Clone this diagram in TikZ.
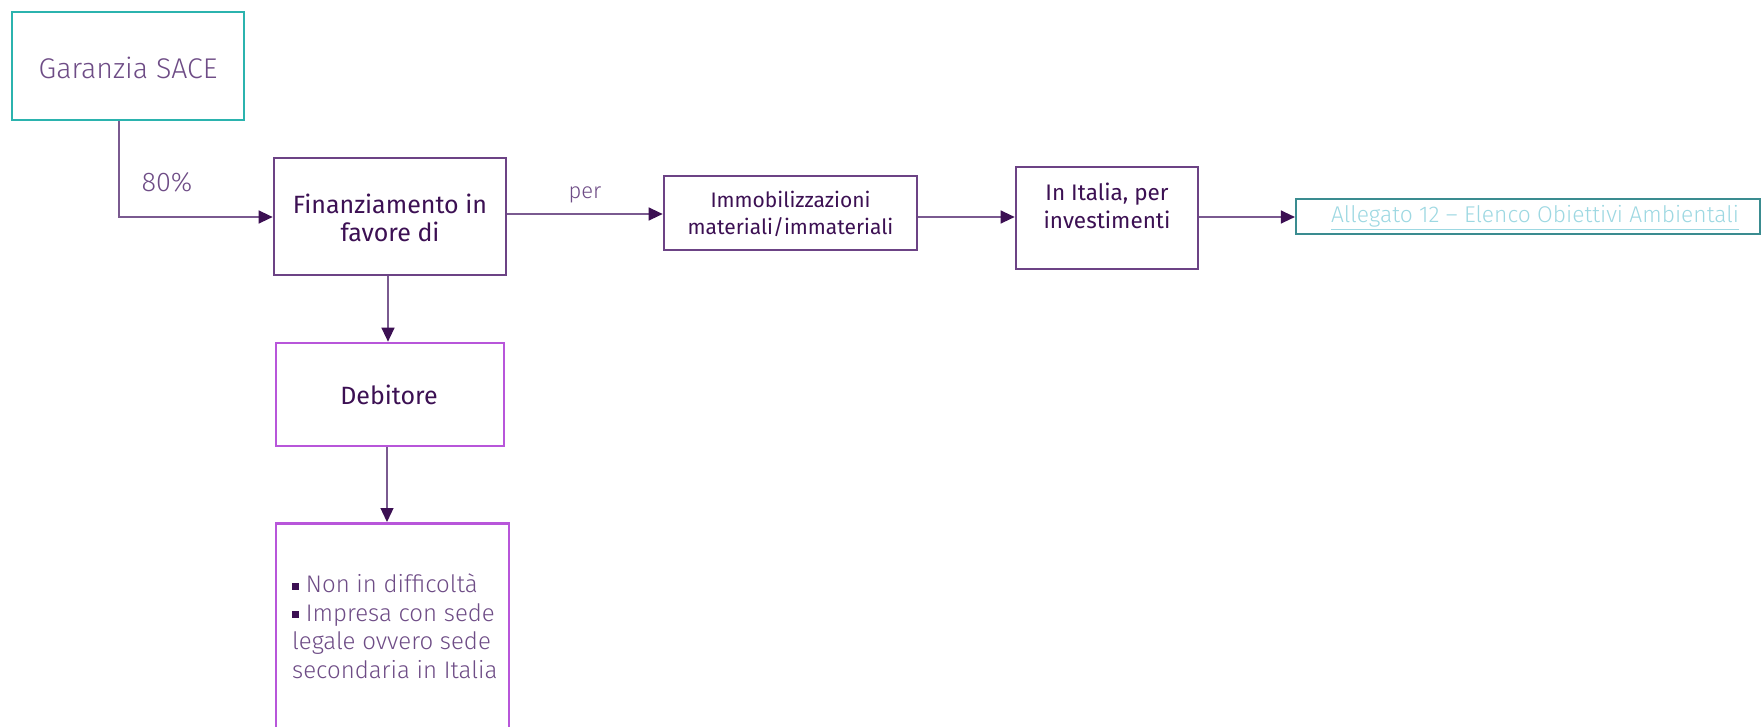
\documentclass[tikz,border=0pt]{standalone}
\usepackage{fontspec}
\setmainfont{Fira Sans}
\newfontfamily\lightf{Fira Sans}[UprightFont=* Light]
\usetikzlibrary{arrows.meta}
\definecolor{teal1}{HTML}{2BB3AE}
\definecolor{teal2}{HTML}{3A8C90}
\definecolor{pborder}{HTML}{6C4385}
\definecolor{vborder}{HTML}{B856DA}
\definecolor{darktxt}{HTML}{3C1053}
\definecolor{lighttxt}{HTML}{6E4C86}
\definecolor{linec}{HTML}{7A5A90}
\definecolor{linkc}{HTML}{9DD8E2}
\tikzset{
  x=1pt, y=-1pt,
  box/.style={draw, line width=2.7pt, inner sep=0pt, rectangle},
  tealbox/.style={box, draw=teal1},
  purbox/.style={box, draw=pborder},
  viobox/.style={box, draw=vborder},
  linkbox/.style={box, draw=teal2, line width=2.2pt},
  darklabel/.style={text=darktxt, align=center, inner sep=0pt},
  lightlabel/.style={text=lighttxt, inner sep=0pt, font=\lightf},
  conn/.style={draw=linec, line width=1.3pt, -{Triangle[length=14pt,width=13pt,color=darktxt]}},
}
\begin{document}
\begin{tikzpicture}
\clip (0,0) rectangle (1762,726);
\fill[white] (0,0) rectangle (1762,726);
% boxes
\node[tealbox, minimum width=232pt, minimum height=108pt] (sace) at (128,66) {};
\node[purbox, minimum width=232pt, minimum height=117pt] (fin) at (390,216.5) {};
\node[purbox, minimum width=253pt, minimum height=74pt] (imm) at (790.5,213) {};
\node[purbox, minimum width=182pt, minimum height=102pt] (ita) at (1107,218) {};
\node[linkbox, minimum width=464pt, minimum height=35pt] (all) at (1528,216.5) {};
\node[viobox, minimum width=228pt, minimum height=103pt] (deb) at (390,394.5) {};
\node[viobox, minimum width=233pt, minimum height=240pt, anchor=north] (req) at (392.5,522) {};
% texts
\node[lightlabel, font=\lightf\fontsize{28.5}{32}\selectfont] (tsace) at (128,68) {Garanzia SACE};
\node[darklabel, font=\fontsize{25}{28}\selectfont] (tfin) at (390,218) {Finanziamento in\\favore di};
\node[darklabel, font=\fontsize{21}{27}\selectfont] (timm) at (790.5,213.5) {Immobilizzazioni\\materiali/immateriali};
\node[darklabel, font=\fontsize{22.5}{28}\selectfont] (tita) at (1107,206) {In Italia, per\\investimenti};
\node[inner sep=0pt, text=linkc, font=\lightf\fontsize{22.8}{25}\selectfont] (tall) at (1535,217.5) {\underline{Allegato 12 – Elenco Obiettivi Ambientali}};
\node[darklabel, font=\fontsize{25}{28}\selectfont] (tdeb) at (389,395) {Debitore};
\node[lightlabel, font=\lightf\fontsize{24}{28.5}\selectfont, align=left, anchor=north west] (treq) at (292,574) {{\color{darktxt}\rule[3pt]{7pt}{7pt}} Non in difficoltà\\{\color{darktxt}\rule[3pt]{7pt}{7pt}} Impresa con sede\\legale ovvero sede\\secondaria in Italia};
% connectors
\draw[conn] (sace.south -| 119,0) |- (fin.west |- 0,217);
\node[lightlabel, font=\lightf\fontsize{27}{32}\selectfont] (p80) at (167,182) {80\%};
\draw[conn] (fin.east |- 0,214) -- (imm.west |- 0,214) node[midway, above=10pt, lightlabel, font=\lightf\fontsize{22}{26}\selectfont] (tper) {per};
\draw[conn] (imm.east |- 0,217) -- (ita.west |- 0,217);
\draw[conn] (ita.east |- 0,217) -- (all.west |- 0,217);
\draw[conn] (fin.south -| 388,0) -- (deb.north -| 388,0);
\draw[conn] (deb.south -| 387,0) -- (req.north -| 387,0);
\end{tikzpicture}
\end{document}
